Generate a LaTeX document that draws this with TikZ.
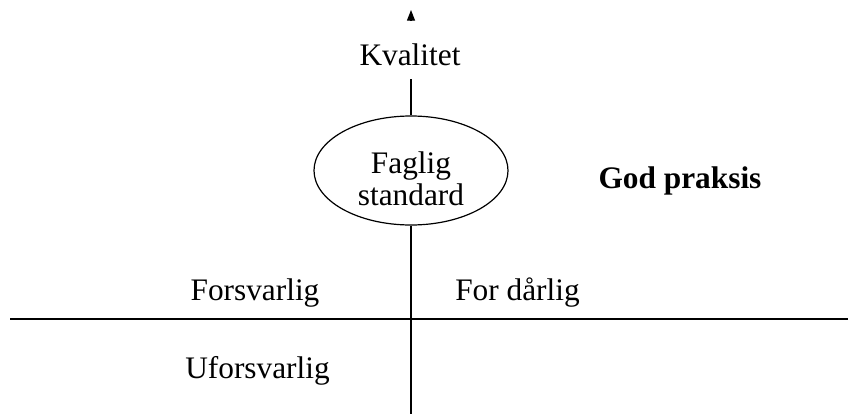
\documentclass[tikz,border=0pt]{standalone}
\usepackage{fontspec}
\setmainfont{Liberation Serif}
\usepackage{tikz}
\usetikzlibrary{shapes.geometric, arrows.meta}

\tikzset{
	lbl/.style={anchor=base, inner sep=0pt, font=\fontsize{23.5}{32}\selectfont},
	axis/.style={black, line width=0.9pt}
}

\begin{document}
\begin{tikzpicture}[x=0.75pt, y=-0.75pt]

	\useasboundingbox (0,0) rectangle (848,414);

	% text
	\node[lbl] (kval) at (410,65) {Kvalitet};
	\node[lbl, font=\fontsize{23.5}{32}\selectfont\bfseries] (god) at (680,188) {God praksis};
	\node[lbl] (fors) at (255,300) {Forsvarlig};
	\node[lbl] (darl) at (517.5,300) {For dårlig};
	\node[lbl] (ufor) at (257.5,378) {Uforsvarlig};

	% faglig standard
	\node[ellipse, draw, line width=0.9pt, minimum width=145.5pt, minimum height=81.75pt, inner sep=0pt] (fag) at (411,170.5) {};
	\node[lbl] (fag1) at (411,173) {Faglig};
	\node[lbl] (fag2) at (411,205) {standard};

	% axes
	\coordinate (q) at (411,79);
	\coordinate (bunn) at (411,414);
	\coordinate (v) at (10,319);
	\coordinate (h) at (848,319);
	\coordinate (pil) at (411,21);
	\coordinate (topp) at (411,10);

	\draw[axis] (q)--(fag.north);
	\draw[axis] (fag.south)--(bunn);
	\draw[axis] (v)--(h);
	\draw[axis, -{Triangle[width=6pt, length=8pt]}] (pil)--(topp);

\end{tikzpicture}
\end{document}
